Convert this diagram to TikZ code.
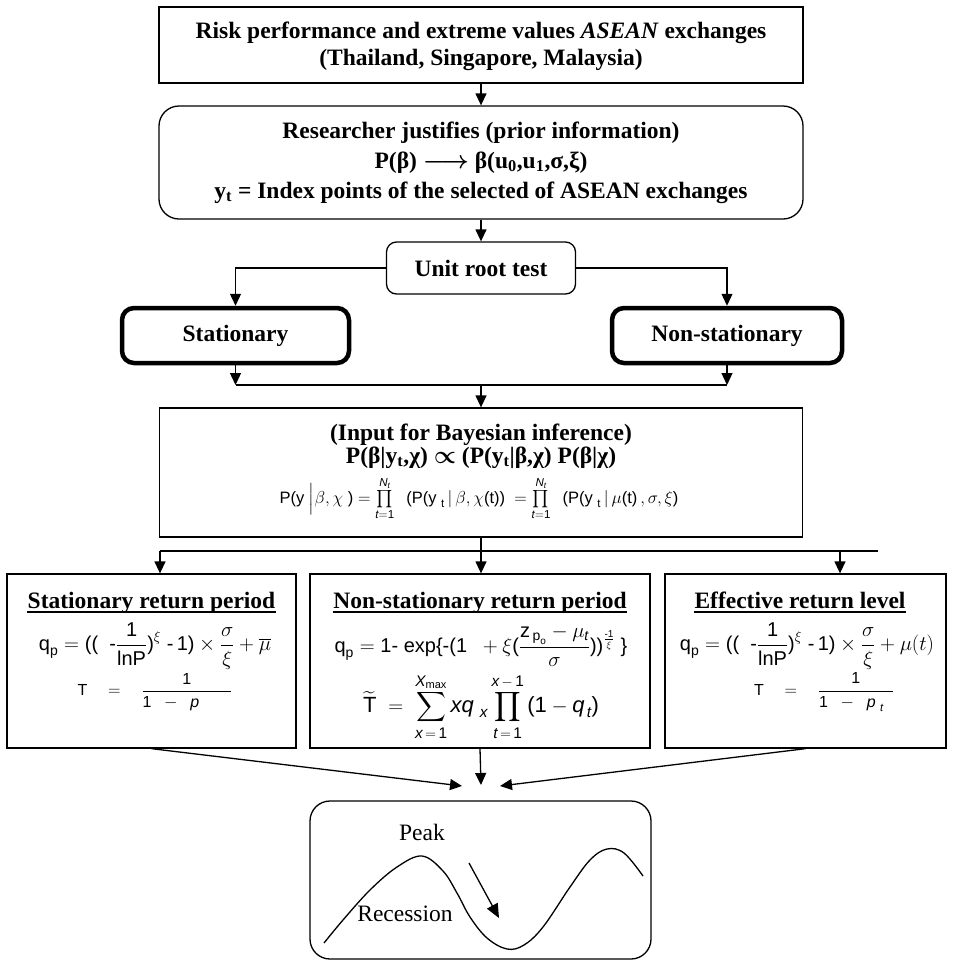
\documentclass[tikz,border=0pt]{standalone}
\usepackage{amsmath}
\usepackage{fontspec}
\setmainfont{Liberation Serif}
\setsansfont{Liberation Sans}
\usetikzlibrary{arrows.meta}
\newcommand{\vi}[1]{\text{\sffamily\itshape #1}}
\newcommand{\tu}[1]{\text{\sffamily #1}}
\begin{document}
\begin{tikzpicture}[x=1pt,y=-1pt,line width=1.3pt,
  >={Triangle[length=12pt,width=11pt]},
  box/.style={draw,line width=1.3pt,inner sep=0pt,align=center},
  big/.style={font=\fontsize{23.5}{27}\selectfont\bfseries},
  thickbox/.style={box,line width=4.5pt,rounded corners=12pt},
  txt/.style={inner sep=0pt,align=center},
  ttl/.style={txt,anchor=base,font=\fontsize{23.5}{27}\selectfont\bfseries},
  frm/.style={txt,font=\fontsize{20}{24}\selectfont\sffamily},
  frs/.style={txt,font=\fontsize{16}{18}\selectfont\sffamily},
  uline/.style={line width=1.2pt}]
\useasboundingbox (0,0) rectangle (953,962);

% top boxes
\node[box,big,minimum width=644pt,minimum height=76pt,text depth=2pt] (top) at (481,45)
  {Risk performance and extreme values \textit{ASEAN} exchanges\\(Thailand, Singapore, Malaysia)};
\node[box,font=\fontsize{23.5}{30}\selectfont\bfseries,rounded corners=20pt,minimum width=644pt,minimum height=113pt] (just) at (481,162.5)
  {Researcher justifies (prior information)\\
   P(β) {\boldmath$\longrightarrow$} β(u\textsubscript{0},u\textsubscript{1},σ,ξ)\\
   y\textsubscript{t} = Index points of the selected of ASEAN exchanges};
\node[box,big,rounded corners=10pt,minimum width=189pt,minimum height=52pt] (unit) at (481,268) {Unit root test};
\node[thickbox,big,minimum width=227pt,minimum height=55pt] (stat) at (235.5,335.5) {Stationary};
\node[thickbox,big,minimum width=230pt,minimum height=55pt] (nonstat) at (727,335.5) {Non-stationary};

% Bayesian box
\node[box,minimum width=643pt,minimum height=129pt] (bayes) at (481,472.5) {};
\node[ttl] (bay1) at (481,440) {(Input for Bayesian inference)};
\node[ttl] (bay2) at (481,463) {P(β|y\textsubscript{t},χ) {\boldmath$\propto$} (P(y\textsubscript{t}|β,χ) P(β|χ)};
\node[txt,font=\fontsize{16.5}{19}\selectfont\sffamily] (bay3) at (479,499)
  {$\tu{P(y}\ \Big|\beta,\chi\ \tu{)}=\prod\limits_{\vi{t}=\tu{1}}^{\vi{N}_{\vi{t}}}\ \ \tu{(P(y}_{\ \tu{t}}\,|\,\beta,\chi\tu{(t))}\ =\prod\limits_{\vi{t}=\tu{1}}^{\vi{N}_{\vi{t}}}\ \ \tu{(P(y}_{\ \tu{t}}\,|\,\mu\tu{(t)}\,,\sigma,\xi\tu{)}$};

% three boxes
\node[box,minimum width=289pt,minimum height=174pt] (left) at (151.5,661) {};
\node[box,minimum width=340pt,minimum height=174pt] (mid) at (480,661) {};
\node[box,minimum width=281pt,minimum height=174pt] (right) at (805.5,661) {};

\node[ttl] (t1) at (151.5,608) {Stationary return period};
\node[ttl] (t2) at (480,608) {Non-stationary return period};
\node[ttl] (t3) at (800,608) {Effective return level};
\draw[uline] ([yshift=-4pt]t1.base west) -- ([yshift=-4pt]t1.base east);
\draw[uline] ([yshift=-4pt]t2.base west) -- ([yshift=-4pt]t2.base east);
\draw[uline] ([yshift=-4pt]t3.base west) -- ([yshift=-4pt]t3.base east);

\node[frm] (q1) at (155,646)
  {$\tu{q}_{\tu{p}}=\tu{((\ \ -}\dfrac{\tu{1}}{\tu{lnP}}\tu{)}^{\xi}\ \tu{-\,1)}\times\dfrac{\sigma}{\xi}+\overline{\mu}$};
\node[frs] (T1) at (155,692) {$\tu{T}\quad=\quad\dfrac{\tu{1}}{\tu{1}\ \ -\ \ \vi{p}\qquad}$};

\node[frm] (q2) at (481,646)
  {$\tu{q}_{\tu{p}}=\tu{1- exp\{-(1\ \ }+\xi\tu{(}\dfrac{\tu{z}_{\,\tu{p}_{\tu{o}}}-\mu_{\vi{t}}}{\sigma}\tu{))}^{\frac{\tu{-1}}{\xi}}\ \tu{\}}$};
\node[txt,font=\fontsize{22}{26}\selectfont\sffamily] (T2) at (481,707)
  {$\widetilde{\tu{T}}\ =\ \displaystyle\sum_{\vi{x}\,=\,\tu{1}}^{\vi{X}_{\tu{max}}}\vi{xq}_{\ \vi{x}}\prod_{\vi{t}\,=\,\tu{1}}^{\vi{x}\,-\,\tu{1}}\tu{(1}-\vi{q}_{\,\vi{t}}\tu{)}$};

\node[frm] (q3) at (807,646)
  {$\tu{q}_{\tu{p}}=\tu{((\ \ -}\dfrac{\tu{1}}{\tu{lnP}}\tu{)}^{\xi}\ \tu{-\,1)}\times\dfrac{\sigma}{\xi}+\mu(t)$};
\node[frs] (T3) at (824,692) {$\tu{T}\quad=\quad\dfrac{\tu{1}}{\tu{1}\ \ -\ \ \vi{p}_{\ \vi{t}}\ \ }$};

% bottom box
\node[box,rounded corners=20pt,minimum width=341pt,minimum height=158pt] (cyc) at (480.5,880) {};
\node[txt,font=\fontsize{23.5}{27}\selectfont] (peak) at (422,832) {Peak};
\node[txt,font=\fontsize{23.5}{27}\selectfont] (rec) at (405,914) {Recession};
\draw plot[smooth,tension=0.6] coordinates {(324,943) (343,920) (370,890) (397,867) (422,856) (443,871) (457,893) (470,917) (487,938) (507,949) (524,945) (543,927) (570,887) (590,860) (607,849) (624,853) (643,876)};
\coordinate (ca) at (469,863);
\coordinate (cb) at (499,918);
\draw[->,>={Triangle[length=14pt,width=12pt]}] (ca) -- (cb);

% connectors
\draw[->] (top) -- (just);
\draw[->] (just) -- (unit);
\draw[->] (unit.west) -| (stat.north);
\draw[->] (unit.east) -| (nonstat.north);
\coordinate (jL) at (235.5,385);
\coordinate (jR) at (727,385);
\coordinate (jM) at (481,385);
\draw (jL) -- (jR);
\draw[->] (stat.south) -- (jL);
\draw[->] (nonstat.south) -- (jR);
\draw[->] (jM) -- (bayes.north);
\coordinate (sL) at (160,551);
\coordinate (sR) at (878,551);
\coordinate (sR2) at (840,551);
\draw (sL) -- (sR);
\draw[->] (bayes.south) -- (bayes.south |- mid.north);
\draw[->] (sL) -- (sL |- left.north);
\draw[->] (sR2) -- (sR2 |- right.north);
\coordinate (tipL) at (462,786);
\coordinate (tipM) at (481,785);
\coordinate (tipR) at (500,786);
\draw[->] (left.south) -- (tipL);
\draw[->] (mid.south) -- (tipM);
\draw[->] (right.south) -- (tipR);
\end{tikzpicture}
\end{document}
